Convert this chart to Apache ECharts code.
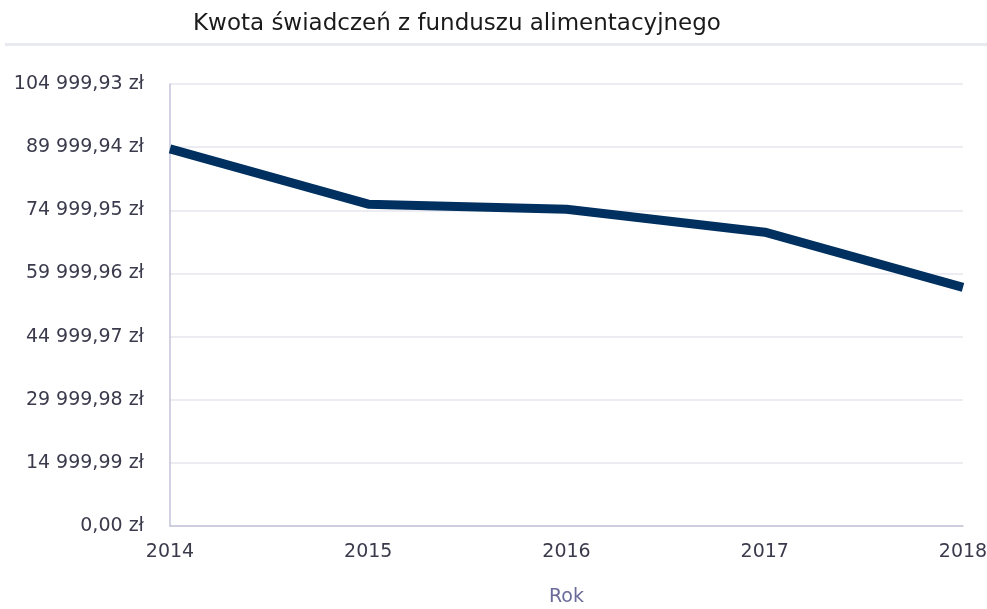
<!DOCTYPE html>
<html>
<head>
<meta charset="utf-8">
<script src="https://cdn.jsdelivr.net/npm/echarts@6/dist/echarts.min.js"></script>
<style>
  html, body { margin: 0; padding: 0; background: #fff; }
  #chart { width: 987px; height: 609px; }
</style>
</head>
<body>
<div id="chart"></div>
<script>
const years = ["2014", "2015", "2016", "2017", "2018"];
const amounts = [89600, 76450, 75250, 69800, 56700];
const yTicks = ["0,00 zł", "14 999,99 zł", "29 999,98 zł", "44 999,97 zł", "59 999,96 zł", "74 999,95 zł", "89 999,94 zł", "104 999,93 zł"];
const yStep = 14999.99;

let chart = echarts.init(document.getElementById("chart"), null, { renderer: "canvas" });

let option = {
  textStyle: { fontFamily: "DejaVu Sans" },
  title: {
    text: "Kwota świadczeń z funduszu alimentacyjnego",
    left: 188,
    top: 8,
    textStyle: { fontSize: 23, fontWeight: "normal", color: "#1a1a1a", fontFamily: "DejaVu Sans" }
  },
  graphic: [
    {
      type: "rect",
      shape: { x: 5, y: 43, width: 982, height: 3 },
      style: { fill: "#e9e9f0" }
    }
  ],
  grid: { left: 170, right: 24, top: 84, bottom: 83, outerBoundsMode: "none" },
  xAxis: {
    type: "category",
    data: years,
    boundaryGap: false,
    name: "Rok",
    nameLocation: "middle",
    nameGap: 62,
    nameTextStyle: { fontSize: 19, color: "#6b6b99" },
    axisLine: { lineStyle: { color: "#c3c3d8", width: 1.5 } },
    axisTick: { show: false },
    axisLabel: { fontSize: 19, color: "#3a3a4c", margin: 17 }
  },
  yAxis: {
    type: "value",
    min: 0,
    max: yStep * 7,
    interval: yStep,
    axisLine: { show: true, lineStyle: { color: "#c3c3d8", width: 1.5 } },
    axisTick: { show: false },
    splitLine: { lineStyle: { color: "#e6e6ee", width: 1.5 } },
    axisLabel: {
      fontSize: 19,
      color: "#3a3a4c",
      margin: 26,
      formatter: function (v, i) { return yTicks[i]; }
    }
  },
  series: [
    {
      type: "line",
      data: amounts,
      symbol: "none",
      lineStyle: { color: "#00305f", width: 9 }
    }
  ]
};

chart.setOption(option);
</script>
</body>
</html>
